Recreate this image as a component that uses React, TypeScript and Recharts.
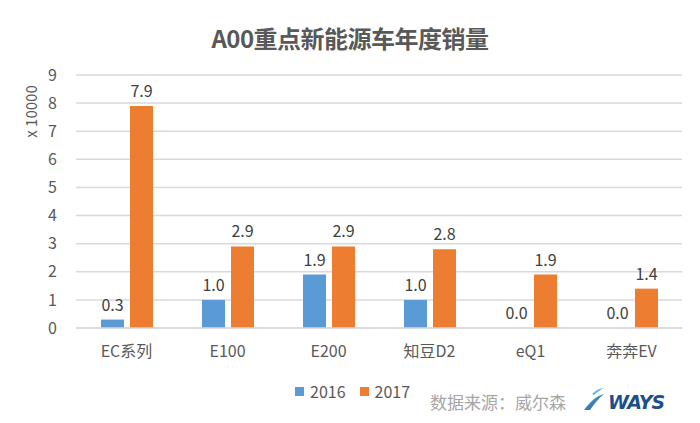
import React from 'react';
import { BarChart, Bar, XAxis, YAxis, CartesianGrid, LabelList, Label } from 'recharts';

const categories = ['EC系列', 'E100', 'E200', '知豆D2', 'eQ1', '奔奔EV'];
const sales2016 = [0.3, 1.0, 1.9, 1.0, 0.0, 0.0];
const sales2017 = [7.9, 2.9, 2.9, 2.8, 1.9, 1.4];
const yTicks = [0, 1, 2, 3, 4, 5, 6, 7, 8, 9];
const seriesNames = ['2016', '2017'];
const seriesColors = ['#5B9BD5', '#ED7D31'];

const data = categories.map((name, i) => ({ name, s2016: sales2016[i], s2017: sales2017[i] }));

const FONT = '"Noto Sans CJK SC", "Open Sans", sans-serif';
const TEXT = '#595959';

const renderLabel = (props: any) => {
  const { x, y, width, value } = props;
  if (x == null || y == null) return null;
  return (
    <text x={Number(x) + Number(width) / 2} y={Number(y) - 9} textAnchor="middle" fill="#404040" fontSize={16} fontFamily={FONT}>
      {Number(value).toFixed(1)}
    </text>
  );
};

export default function App() {
  return (
    <div style={{ position: 'absolute', left: 0, top: 0, width: 700, height: 423, background: '#fff', fontFamily: FONT }}>
      <div style={{ position: 'absolute', left: 0, top: 20, width: 700, textAlign: 'center', fontSize: 24, fontWeight: 700, color: TEXT, letterSpacing: -0.5 }}>
        A00重点新能源车年度销量
      </div>
      <BarChart
        width={700}
        height={423}
        data={data}
        margin={{ top: 75, right: 18, bottom: 65, left: 0 }}
        barGap={6}
        barSize={23}
      >
        <CartesianGrid vertical={false} stroke="#D9D9D9" strokeWidth={1.5} />
        <XAxis
          dataKey="name"
          height={30}
          axisLine={{ stroke: '#D9D9D9', strokeWidth: 1.5 }}
          tickLine={false}
          tickMargin={12}
          tick={{ fill: TEXT, fontSize: 16, fontFamily: FONT }}
          interval={0}
        />
        <YAxis
          width={76}
          domain={[0, 9]}
          ticks={yTicks}
          interval={0}
          axisLine={false}
          tickLine={false}
          tickMargin={12}
          tick={{ fill: TEXT, fontSize: 16, fontFamily: FONT, dx: -1 }}
        >
          <Label value="x 10000" angle={-90} position="insideLeft" offset={32} dy={-90} style={{ fill: TEXT, fontSize: 15, fontFamily: FONT, textAnchor: 'middle' }} />
        </YAxis>
        <Bar dataKey="s2016" name="2016" fill={seriesColors[0]} minPointSize={0.01} isAnimationActive={false}>
          <LabelList dataKey="s2016" content={renderLabel} />
        </Bar>
        <Bar dataKey="s2017" name="2017" fill={seriesColors[1]} minPointSize={0.01} isAnimationActive={false}>
          <LabelList dataKey="s2017" content={renderLabel} />
        </Bar>
      </BarChart>
      <div style={{ position: 'absolute', left: 295, top: 379, display: 'flex', alignItems: 'center', fontSize: 16, color: TEXT }}>
        {seriesNames.map((n, i) => (
          <div key={n} style={{ display: 'flex', alignItems: 'center', marginRight: 14 }}>
            <div style={{ width: 9, height: 9, background: seriesColors[i], marginRight: 6 }} />
            <span>{n}</span>
          </div>
        ))}
      </div>
      <div style={{ position: 'absolute', left: 430, top: 389, fontSize: 17, color: '#A6A6A6', fontFamily: FONT }}>
        数据来源：威尔森
      </div>
      <svg style={{ position: 'absolute', left: 582, top: 386 }} width={90} height={28}>
        <defs>
          <linearGradient id="wing" x1="0" y1="0" x2="1" y2="1">
            <stop offset="0%" stopColor="#5DB3E8" />
            <stop offset="100%" stopColor="#1F4E8C" />
          </linearGradient>
        </defs>
        <path d="M2 24 C 8 16, 14 10, 22 8 C 16 13, 12 18, 8 24 Z" fill="url(#wing)" />
        <path d="M10 8 C 14 4, 18 2, 22 2 C 18 4, 15 6, 12 9 Z" fill="#5DB3E8" />
        <text x={26} y={23} fontSize={19} fontWeight={800} fontStyle="italic" fill="#1F4E8C" fontFamily="'DejaVu Sans', sans-serif" letterSpacing={-1}>WAYS</text>
      </svg>
    </div>
  );
}
